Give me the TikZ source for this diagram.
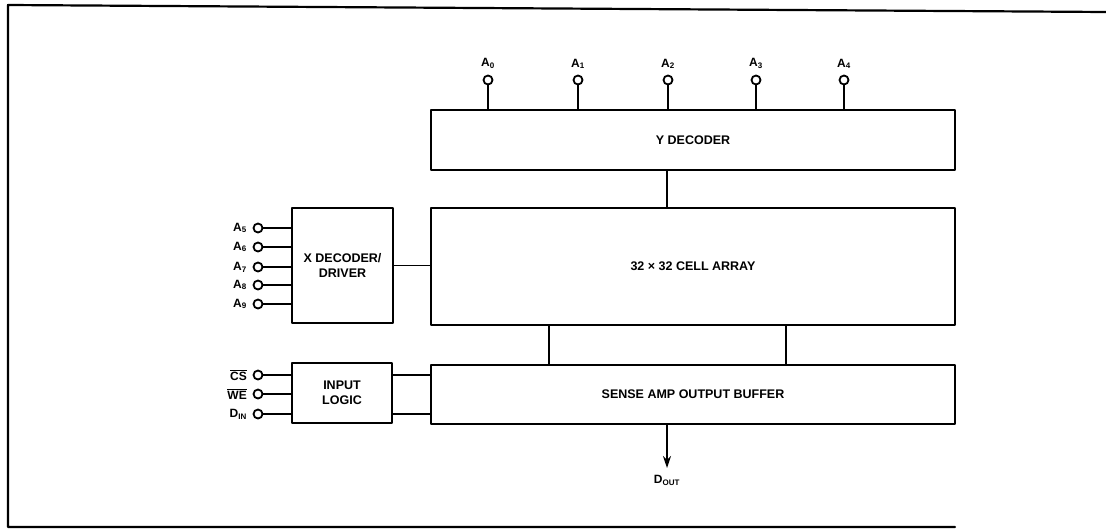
\documentclass[tikz,border=0pt]{standalone}
\usepackage{fontspec}
\setmainfont{Liberation Sans}
\usetikzlibrary{arrows.meta}

\tikzset{
  blk/.style={draw, line width=2.6pt, inner sep=0pt, font=\bfseries\fontsize{12.5}{14.5}\selectfont, align=center},
  pinc/.style={draw, circle, line width=1.8pt, fill=white, inner sep=0pt, minimum size=9pt},
  pinlbl/.style={inner sep=0pt, font=\bfseries\fontsize{12}{13}\selectfont},
  wire/.style={line width=1.8pt}
}

\begin{document}
\begin{tikzpicture}[x=1pt, y=-1pt, line cap=round, line join=round]

  %% ════ outer frame ════
  \draw[line width=2.2pt] (1106,12) -- (8,5) -- (8,527) -- (955,527);

  %% ════ blocks ════
  \node[blk, minimum width=524pt, minimum height=60pt]  (ydec)  at (693,140)   {Y DECODER};
  \node[blk, minimum width=524pt, minimum height=117pt] (cells) at (693,266.5) {32 × 32 CELL ARRAY};
  \node[blk, minimum width=524pt, minimum height=59pt]  (sense) at (693,394.5) {SENSE AMP OUTPUT BUFFER};
  \node[blk, minimum width=101pt, minimum height=115pt] (xdec)  at (342.5,265.5) {X DECODER/\\DRIVER};
  \node[blk, minimum width=100pt, minimum height=60pt]  (inlog) at (342,393)   {INPUT\\LOGIC};

  %% ════ address pins on top ════
  \foreach \n/\x in {0/488, 1/578, 2/668, 3/756, 4/844} {
    \node[pinc] (a\n) at (\x,80) {};
    \node[pinlbl, above=11pt] at (a\n) {A\textsubscript{\n}};
    \draw[wire] (a\n) -- (a\n |- ydec.north);
  }

  %% ════ address pins on the left ════
  \foreach \n/\y in {5/228, 6/247, 7/267, 8/285, 9/304} {
    \node[pinc] (a\n) at (258,\y) {};
    \node[pinlbl, left=11pt] at (a\n) {A\textsubscript{\n}};
    \draw[wire] (a\n) -- (a\n -| xdec.west);
  }

  %% ════ control pins ════
  \node[pinc] (cs)  at (258,375) {};
  \node[pinc] (we)  at (258,394) {};
  \node[pinc] (din) at (258,414) {};
  \node[pinlbl, left=11pt] at (cs)  {$\overline{\hbox{\bfseries CS}}$};
  \node[pinlbl, left=11pt] at (we)  {$\overline{\hbox{\bfseries WE}}$};
  \node[pinlbl, left=11pt] at (din) {D\textsubscript{IN}};
  \foreach \p in {cs, we, din}
    \draw[wire] (\p) -- (\p -| inlog.west);

  %% ════ connections between blocks ════
  \draw[wire] ([xshift=-26pt]ydec.south) -- ([xshift=-26pt]cells.north);
  \draw[wire] ([xshift=-144pt]cells.south) -- ([xshift=-144pt]sense.north);
  \draw[wire] ([xshift=93pt]cells.south) -- ([xshift=93pt]sense.north);
  \draw[wire] (xdec.east) -- (xdec.east -| cells.west);
  \draw[wire] (cs -| inlog.east) -- (cs -| sense.west);
  \draw[wire] (din -| inlog.east) -- (din -| sense.west);

  %% ════ data out ════
  \coordinate (dout) at (667,468);
  \draw[wire, -{Stealth[length=12pt, width=8pt]}] (sense.south -| dout) -- (dout);
  \node[pinlbl, below=7pt] at (dout) {D\textsubscript{OUT}};

  \pgfresetboundingbox
  \path[use as bounding box] (0,0) rectangle (1106,530);
\end{tikzpicture}
\end{document}
